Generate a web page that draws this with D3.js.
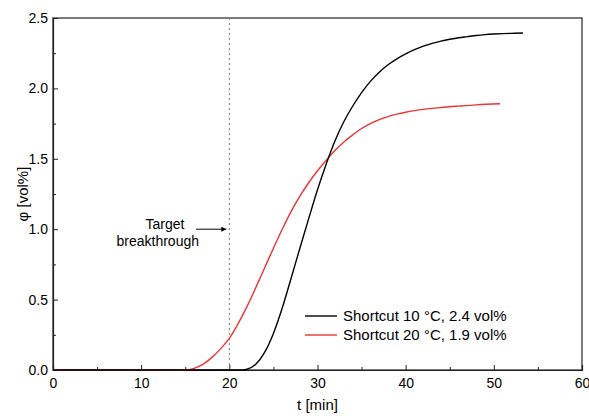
<!DOCTYPE html>
<html><head><meta charset="utf-8">
<script src="https://cdn.jsdelivr.net/npm/d3@7"></script>
<style>body{margin:0;background:#fff}text{font-family:"Liberation Sans",Arial,sans-serif;fill:#000}</style>
</head><body><svg id="c" width="589" height="416"></svg>
<script>
const xTicks = [0,10,20,30,40,50,60];
const yTicks = [0.0,0.5,1.0,1.5,2.0,2.5];
const seriesNames = ["Shortcut 10 °C, 2.4 vol%", "Shortcut 20 °C, 1.9 vol%"];
const seriesColors = ["#000000", "#ee3333"];
const blackT = [0,10,20,21.5,22,23,24,25,26,27,28,29,30,31,32,33,34,35,36,37,38,39,40,41,42,43,44,45,46,47,48,49,50,51,52,53.3];
const blackV = [0,0,0,0,0.005,0.04,0.125,0.26,0.44,0.65,0.865,1.075,1.28,1.465,1.63,1.765,1.875,1.97,2.05,2.115,2.168,2.21,2.245,2.275,2.30,2.32,2.336,2.349,2.36,2.368,2.376,2.382,2.386,2.389,2.391,2.393];
const redT = [0,10,15,16,17,18,19,20,21,22,23,24,25,26,27,28,29,30,31,32,33,34,35,36,37,38,39,40,41,42,43,44,46,48,50.7];
const redV = [0,0,0,0.012,0.04,0.088,0.15,0.225,0.33,0.45,0.585,0.725,0.865,1.0,1.125,1.235,1.33,1.415,1.49,1.56,1.62,1.67,1.715,1.75,1.778,1.80,1.817,1.831,1.842,1.851,1.858,1.864,1.874,1.883,1.891];
const targetT = 20;
const arrowV = 1.0;

const svg = d3.select("#c");
const L=53, R=582, T=18, B=370;
const x = d3.scaleLinear().domain([0,60]).range([L,R]);
const y = d3.scaleLinear().domain([0,2.5]).range([B,T]);

svg.append("rect").attr("x",L).attr("y",T).attr("width",R-L).attr("height",B-T)
  .attr("fill","none").attr("stroke","#222").attr("stroke-width",1.2);

const xAx = svg.append("g").attr("transform",`translate(0,${B})`)
  .call(d3.axisBottom(x).tickValues(d3.range(0,61,5)).tickSize(-5).tickFormat(d=>xTicks.includes(d)?d:""));
xAx.selectAll(".tick line").attr("y2",d=>d%10===0?-5:-3);
const yAx = svg.append("g").attr("transform",`translate(${L},0)`)
  .call(d3.axisLeft(y).tickValues(d3.range(0,2.51,0.25)).tickSize(-5).tickFormat(d=>yTicks.some(v=>Math.abs(v-d)<1e-6)?d3.format(".1f")(d):""));
yAx.selectAll(".tick line").attr("x2",d=>Math.abs(d*2-Math.round(d*2))<1e-6?5:3);
[xAx,yAx].forEach(g=>{
  g.select(".domain").attr("stroke","#222").attr("stroke-width",1.2);
  g.selectAll(".tick line").attr("stroke","#222");
  g.selectAll("text").attr("font-size",14).attr("font-family","Liberation Sans, Arial, sans-serif").attr("fill","#000");
});
xAx.selectAll("text").attr("dy","0.71em").attr("y",8);
yAx.selectAll("text").attr("x",-5);

svg.append("text").attr("x",(L+R)/2).attr("y",410).attr("text-anchor","middle").attr("font-size",15).text("t [min]");
svg.append("text").attr("transform",`translate(28,${(T+B)/2}) rotate(-90)`).attr("text-anchor","middle").attr("font-size",15).text("φ [vol%]");

svg.append("line").attr("x1",x(targetT)).attr("x2",x(targetT)).attr("y1",T).attr("y2",B)
  .attr("stroke","#777").attr("stroke-width",1).attr("stroke-dasharray","2,3");

const line = d3.line().x(d=>x(d[0])).y(d=>y(d[1])).curve(d3.curveMonotoneX);
svg.append("path").datum(redT.map((t,i)=>[t,redV[i]])).attr("d",line)
  .attr("fill","none").attr("stroke",seriesColors[1]).attr("stroke-width",1.4);
svg.append("path").datum(blackT.map((t,i)=>[t,blackV[i]])).attr("d",line)
  .attr("fill","none").attr("stroke",seriesColors[0]).attr("stroke-width",1.4);

svg.append("text").attr("x",165).attr("y",229).attr("text-anchor","middle").attr("font-size",14).text("Target");
svg.append("text").attr("x",199).attr("y",246).attr("text-anchor","end").attr("font-size",14).text("breakthrough");
svg.append("defs").append("marker").attr("id","ah").attr("viewBox","0 0 10 10").attr("refX",10).attr("refY",5)
  .attr("markerWidth",8).attr("markerHeight",5).attr("markerUnits","userSpaceOnUse").attr("orient","auto")
  .append("path").attr("d","M0,0L10,5L0,10z").attr("fill","#000");
svg.append("line").attr("x1",196).attr("x2",x(targetT)-3).attr("y1",y(arrowV)).attr("y2",y(arrowV))
  .attr("stroke","#000").attr("stroke-width",1).attr("marker-end","url(#ah)");

seriesNames.forEach((n,i)=>{
  const yy = 316 + i*19;
  svg.append("line").attr("x1",305).attr("x2",337).attr("y1",yy).attr("y2",yy).attr("stroke",seriesColors[i]).attr("stroke-width",1.4);
  svg.append("text").attr("x",343).attr("y",yy+5).attr("font-size",15).text(n);
});
</script></body></html>
